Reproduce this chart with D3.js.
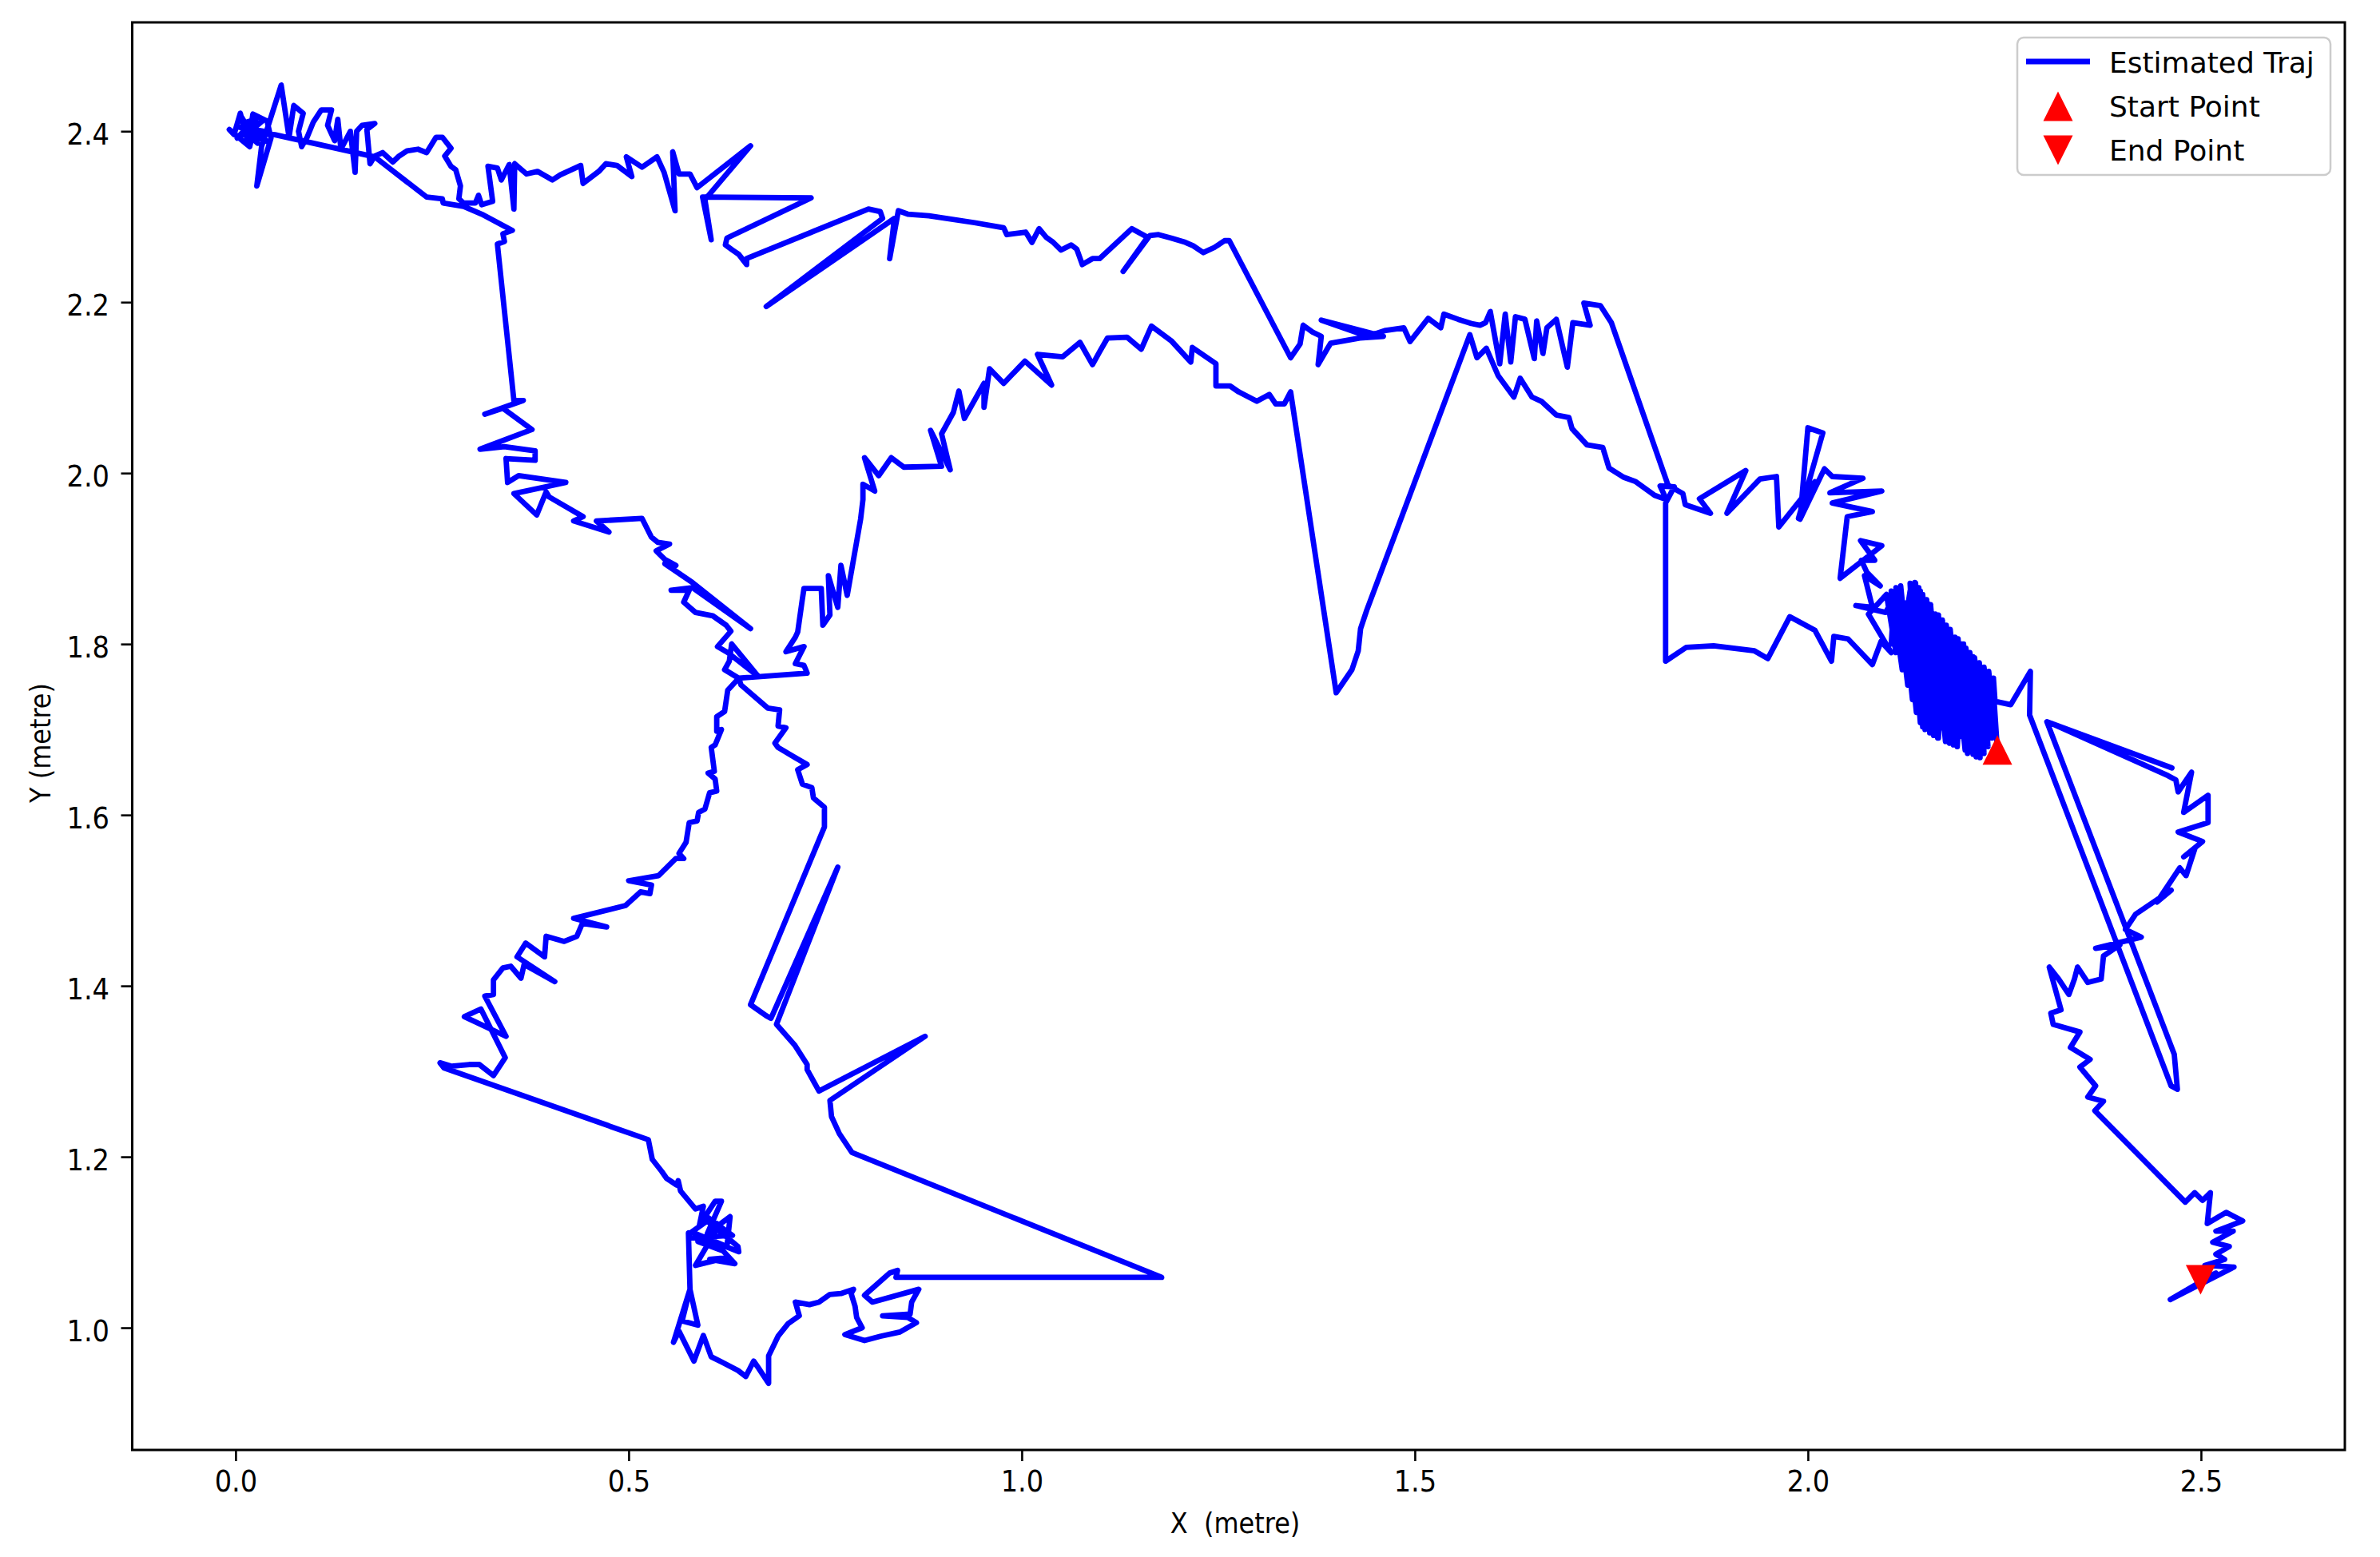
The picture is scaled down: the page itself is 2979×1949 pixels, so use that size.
<!DOCTYPE html>
<html><head><meta charset="utf-8">
<script src="https://cdn.jsdelivr.net/npm/d3@7"></script>
<style>html,body{margin:0;padding:0;background:#fff;} svg{display:block;}</style>
</head><body>
<svg id="chart" width="2979" height="1949"></svg>
<script>
// ---- data (metres) ----
const xLimits = [-0.1315, 2.683];
const yLimits = [0.857, 2.5274];
const xTicks = [0.0, 0.5, 1.0, 1.5, 2.0, 2.5];
const yTicks = [1.0, 1.2, 1.4, 1.6, 1.8, 2.0, 2.2, 2.4];
const legendLabels = ["Estimated Traj", "Start Point", "End Point"];

const startPoint = [2.241, 1.676];
const endPoint = [2.4995, 1.056];

const startCluster = [[2.236,1.745],[2.226,1.683],[2.224,1.770],[2.214,1.668],[2.210,1.785],[2.203,1.672],[2.198,1.800],[2.190,1.680],[2.187,1.808],[2.178,1.686],[2.174,1.822],[2.166,1.690],[2.162,1.835],[2.155,1.696],[2.152,1.848],[2.146,1.703],[2.143,1.862],[2.135,1.735],[2.137,1.871],[2.126,1.760],[2.130,1.862],[2.118,1.790],[2.115,1.852],[2.106,1.800],[2.110,1.856],[2.099,1.837],[2.061,1.845],[2.082,1.843],[2.072,1.880],[2.092,1.868],[2.075,1.884],[2.068,1.898],[2.085,1.898],[2.067,1.921],[2.094,1.915],[2.041,1.877],[2.050,1.949],[2.082,1.955],[2.031,1.965],[2.094,1.979],[2.028,1.977],[2.070,1.994],[2.031,1.996],[2.021,2.005],[1.990,1.946],[2.000,2.053],[2.019,2.047],[1.988,1.947],[2.009,1.990],[1.963,1.937],[1.960,1.996],[1.939,1.993],[1.897,1.953],[1.921,2.003],[1.862,1.970],[1.876,1.953],[1.844,1.963],[1.841,1.976],[1.822,1.986]];

const upperEast = [[1.750,2.176],[1.736,2.196],[1.715,2.199],[1.723,2.173],[1.701,2.176],[1.694,2.124],[1.680,2.180],[1.668,2.170],[1.663,2.140],[1.655,2.178],[1.652,2.134],[1.640,2.180],[1.628,2.183],[1.622,2.130],[1.615,2.186],[1.608,2.128],[1.596,2.189],[1.590,2.176],[1.583,2.173],[1.572,2.175],[1.555,2.180],[1.537,2.186],[1.533,2.170],[1.517,2.181],[1.505,2.167],[1.494,2.154],[1.486,2.170],[1.463,2.167],[1.440,2.160],[1.381,2.179],[1.460,2.160],[1.430,2.158],[1.393,2.152],[1.389,2.146],[1.377,2.127],[1.381,2.160],[1.370,2.165],[1.358,2.173],[1.354,2.151],[1.342,2.135],[1.264,2.272]];

const upperMid = [[1.258,2.272],[1.245,2.264],[1.231,2.258],[1.218,2.266],[1.208,2.270],[1.190,2.275],[1.174,2.279],[1.163,2.278],[1.129,2.236],[1.160,2.276],[1.140,2.286],[1.099,2.251],[1.090,2.251],[1.077,2.244],[1.070,2.262],[1.063,2.267],[1.050,2.261],[1.040,2.270],[1.031,2.276],[1.022,2.286],[1.013,2.270],[1.005,2.282],[0.981,2.279],[0.977,2.287],[0.940,2.293],[0.882,2.301],[0.855,2.303],[0.843,2.307],[0.832,2.251],[0.838,2.298],[0.675,2.195],[0.823,2.298],[0.820,2.306],[0.805,2.309],[0.650,2.251],[0.650,2.244],[0.640,2.256],[0.632,2.261],[0.623,2.267],[0.625,2.275],[0.732,2.322],[0.594,2.323],[0.605,2.273],[0.597,2.320],[0.655,2.383],[0.587,2.334],[0.578,2.350],[0.564,2.350]];

const upperWest = [[0.556,2.376],[0.559,2.307],[0.545,2.352],[0.536,2.370],[0.517,2.358],[0.497,2.370],[0.504,2.347],[0.485,2.360],[0.471,2.362],[0.462,2.353],[0.442,2.339],[0.439,2.360],[0.413,2.349],[0.403,2.343],[0.384,2.353],[0.370,2.350],[0.355,2.362],[0.354,2.309],[0.348,2.361],[0.338,2.343],[0.333,2.357],[0.321,2.359],[0.327,2.318],[0.313,2.314],[0.309,2.325],[0.305,2.316],[0.290,2.316],[0.284,2.321],[0.286,2.336],[0.280,2.355],[0.274,2.359],[0.266,2.371],[0.274,2.380],[0.263,2.393],[0.255,2.393],[0.243,2.375],[0.232,2.379],[0.218,2.377],[0.208,2.371],[0.200,2.364],[0.187,2.375],[0.177,2.371],[0.171,2.362],[0.167,2.402],[0.177,2.409],[0.161,2.407],[0.154,2.400],[0.152,2.352],[0.146,2.400],[0.134,2.379],[0.130,2.414],[0.126,2.389],[0.117,2.407],[0.122,2.425],[0.109,2.425],[0.099,2.411],[0.091,2.393],[0.084,2.382],[0.080,2.400],[0.086,2.421],[0.074,2.430],[0.068,2.393],[0.058,2.454],[0.033,2.382],[0.027,2.336],[0.045,2.392],[0.040,2.412],[0.022,2.420],[0.016,2.386],[0.006,2.421],[-0.002,2.396],[-0.008,2.402],[0.010,2.388],[0.018,2.382],[0.026,2.414],[0.012,2.410],[0.030,2.398],[0.004,2.405],[0.036,2.400],[0.020,2.392],[0.008,2.416],[0.028,2.386],[0.014,2.398],[0.034,2.412],[0.024,2.404],[0.002,2.392],[0.018,2.408],[0.040,2.388],[0.010,2.400],[0.050,2.396],[0.177,2.370],[0.243,2.323],[0.263,2.321],[0.264,2.316],[0.290,2.312],[0.313,2.303],[0.352,2.284],[0.340,2.280],[0.342,2.271],[0.333,2.268]];

const leftDescent = [[0.354,2.085],[0.366,2.085],[0.317,2.069],[0.340,2.076],[0.377,2.051],[0.311,2.028],[0.342,2.031],[0.381,2.026],[0.381,2.015],[0.344,2.017],[0.346,1.989],[0.360,1.997],[0.420,1.989],[0.354,1.976],[0.383,1.951],[0.395,1.978],[0.399,1.972],[0.442,1.949],[0.430,1.944],[0.475,1.931],[0.459,1.944],[0.517,1.947],[0.529,1.925],[0.537,1.919],[0.552,1.917],[0.535,1.909],[0.546,1.899],[0.560,1.892],[0.546,1.894],[0.581,1.872],[0.655,1.818],[0.581,1.866],[0.554,1.863],[0.577,1.863],[0.570,1.849],[0.585,1.837],[0.607,1.833],[0.624,1.822],[0.630,1.815],[0.613,1.797],[0.626,1.790],[0.665,1.762],[0.631,1.800],[0.628,1.780],[0.622,1.770],[0.640,1.760]];

const lowerLeft = [[0.626,1.746],[0.622,1.721],[0.612,1.715],[0.612,1.698],[0.618,1.700],[0.610,1.682],[0.605,1.679],[0.609,1.651],[0.601,1.649],[0.610,1.642],[0.612,1.628],[0.603,1.626],[0.597,1.607],[0.589,1.603],[0.587,1.593],[0.577,1.591],[0.573,1.568],[0.564,1.555],[0.570,1.549],[0.560,1.549],[0.538,1.529],[0.500,1.523],[0.529,1.518],[0.527,1.508],[0.515,1.510],[0.496,1.494],[0.430,1.479],[0.472,1.469],[0.441,1.473],[0.434,1.458],[0.418,1.452],[0.395,1.458],[0.393,1.434],[0.369,1.450],[0.358,1.434],[0.406,1.405],[0.367,1.425],[0.363,1.409],[0.350,1.423],[0.340,1.421],[0.328,1.407],[0.328,1.390],[0.317,1.388],[0.344,1.341],[0.291,1.364],[0.312,1.373],[0.343,1.316],[0.328,1.295],[0.310,1.308],[0.297,1.308],[0.275,1.306],[0.260,1.310],[0.265,1.304]];

const bottomLoop = [[0.525,1.220],[0.530,1.197],[0.542,1.183],[0.548,1.175],[0.561,1.167],[0.563,1.172],[0.566,1.160],[0.585,1.139],[0.595,1.142],[0.590,1.120],[0.610,1.148],[0.618,1.148],[0.600,1.110],[0.629,1.130],[0.625,1.095],[0.580,1.112],[0.600,1.125],[0.639,1.095],[0.640,1.089],[0.610,1.100],[0.588,1.101],[0.620,1.090],[0.635,1.075],[0.603,1.080],[0.625,1.082],[0.585,1.073],[0.615,1.120],[0.596,1.132],[0.632,1.108],[0.578,1.105],[0.576,1.111],[0.578,1.045],[0.568,1.008],[0.588,1.003],[0.578,1.045],[0.557,0.983],[0.564,0.996],[0.583,0.961],[0.595,0.991],[0.605,0.966],[0.618,0.960],[0.639,0.950],[0.649,0.943],[0.659,0.961],[0.665,0.953],[0.678,0.935],[0.678,0.967],[0.690,0.990],[0.703,1.005],[0.717,1.014],[0.712,1.030],[0.730,1.027],[0.742,1.030],[0.756,1.039],[0.770,1.040],[0.786,1.045],[0.783,1.040],[0.788,1.025],[0.790,1.012],[0.797,1.000],[0.775,0.992],[0.800,0.985],[0.820,0.990],[0.845,0.995],[0.866,1.006],[0.855,1.012],[0.823,1.014],[0.858,1.016],[0.860,1.030],[0.869,1.045],[0.810,1.030],[0.800,1.038],[0.832,1.064],[0.842,1.067],[0.840,1.059],[1.178,1.059]];

const returnLeg = [[0.784,1.205],[0.768,1.227],[0.758,1.247],[0.756,1.266],[0.877,1.341],[0.742,1.277],[0.727,1.302],[0.727,1.308],[0.711,1.331],[0.688,1.355],[0.766,1.539],[0.681,1.362],[0.675,1.365],[0.655,1.378],[0.749,1.586],[0.749,1.609],[0.735,1.620],[0.733,1.632],[0.721,1.636],[0.715,1.653],[0.727,1.659],[0.712,1.667],[0.690,1.679],[0.686,1.684],[0.700,1.702],[0.690,1.704],[0.692,1.723],[0.677,1.725],[0.643,1.752],[0.640,1.760]];

const lowerArc = [[0.727,1.766],[0.723,1.775],[0.712,1.777],[0.723,1.797],[0.700,1.791],[0.712,1.808],[0.715,1.814],[0.721,1.853],[0.723,1.865],[0.745,1.865],[0.747,1.822],[0.756,1.834],[0.754,1.880],[0.766,1.843],[0.770,1.892],[0.778,1.857],[0.795,1.946],[0.798,1.969],[0.798,1.987],[0.813,1.979],[0.800,2.018],[0.818,1.997],[0.834,2.018],[0.850,2.007],[0.898,2.008],[0.884,2.050],[0.909,2.004],[0.898,2.046],[0.913,2.071],[0.920,2.096],[0.927,2.064],[0.952,2.105],[0.952,2.077],[0.959,2.122],[0.977,2.105],[1.004,2.131],[1.038,2.103],[1.020,2.139],[1.052,2.136],[1.074,2.153],[1.090,2.127],[1.099,2.142],[1.109,2.158],[1.134,2.159],[1.152,2.145],[1.165,2.172],[1.190,2.155],[1.215,2.130],[1.217,2.147],[1.247,2.128],[1.247,2.102],[1.265,2.102],[1.276,2.095],[1.299,2.084],[1.315,2.092],[1.323,2.081],[1.334,2.081],[1.342,2.095],[1.400,1.743],[1.420,1.770],[1.428,1.792],[1.431,1.818],[1.439,1.840],[1.570,2.162]];

const lowerRight = [[1.579,2.135],[1.591,2.146],[1.606,2.114],[1.626,2.089],[1.634,2.111],[1.649,2.089],[1.661,2.084],[1.680,2.068],[1.696,2.065],[1.700,2.052],[1.719,2.033],[1.739,2.030],[1.747,2.006],[1.766,1.995],[1.781,1.990],[1.805,1.974],[1.820,1.969],[1.812,1.985],[1.830,1.984],[1.819,1.965],[1.819,1.780]];

const bottomPath = [[1.845,1.796],[1.880,1.798],[1.932,1.792],[1.949,1.783],[1.977,1.832],[2.009,1.816],[2.030,1.780],[2.033,1.809],[2.051,1.806],[2.082,1.776],[2.093,1.803],[2.106,1.790]];

const clusterReturn = [[2.077,1.835],[2.100,1.858],[2.112,1.790],[2.106,1.862],[2.120,1.770],[2.112,1.866],[2.127,1.752],[2.118,1.868],[2.133,1.735],[2.124,1.848],[2.138,1.720],[2.130,1.871],[2.143,1.708],[2.136,1.872],[2.149,1.700],[2.141,1.866],[2.155,1.710],[2.146,1.858],[2.160,1.693],[2.151,1.852],[2.165,1.690],[2.156,1.846],[2.170,1.702],[2.161,1.826],[2.175,1.686],[2.166,1.834],[2.180,1.684],[2.171,1.828],[2.185,1.682],[2.176,1.822],[2.190,1.680],[2.181,1.817],[2.195,1.692],[2.186,1.800],[2.200,1.676],[2.191,1.806],[2.205,1.674],[2.196,1.800],[2.210,1.671],[2.201,1.795],[2.215,1.680],[2.206,1.790],[2.219,1.667],[2.212,1.784],[2.224,1.672],[2.218,1.778],[2.229,1.680],[2.224,1.773],[2.234,1.690],[2.230,1.768],[2.238,1.700],[2.236,1.760],[2.238,1.733],[2.258,1.729],[2.283,1.768],[2.282,1.717]];

const exitToEnd = [[2.462,1.283],[2.470,1.279],[2.466,1.320],[2.304,1.709],[2.463,1.655],[2.310,1.707],[2.458,1.646],[2.468,1.641],[2.471,1.627],[2.488,1.650],[2.478,1.603],[2.509,1.623],[2.509,1.591],[2.471,1.580],[2.502,1.569],[2.478,1.551],[2.492,1.560],[2.481,1.529],[2.473,1.538],[2.444,1.498],[2.462,1.512],[2.417,1.484],[2.404,1.466],[2.424,1.457],[2.366,1.444],[2.397,1.448],[2.376,1.435],[2.373,1.408],[2.356,1.404],[2.343,1.422],[2.339,1.408],[2.332,1.390],[2.319,1.408],[2.307,1.422],[2.322,1.372],[2.309,1.368],[2.312,1.355],[2.346,1.346],[2.334,1.328],[2.359,1.314],[2.346,1.305],[2.366,1.283],[2.356,1.270],[2.376,1.265],[2.365,1.254],[2.480,1.147],[2.492,1.158],[2.502,1.149],[2.512,1.158],[2.508,1.122],[2.532,1.135],[2.553,1.125],[2.519,1.113],[2.541,1.113],[2.515,1.100],[2.536,1.095],[2.519,1.086],[2.530,1.080],[2.505,1.073],[2.542,1.071],[2.461,1.033],[2.519,1.064]];

const trajectory = [startPoint, ...startCluster, ...upperEast, ...upperMid, ...upperWest,
  ...leftDescent, ...lowerLeft, ...bottomLoop, ...returnLeg, ...lowerArc, ...lowerRight,
  ...bottomPath, ...clusterReturn, ...exitToEnd, endPoint];

// ---- layout ----
const svg = d3.select("#chart");
const plot = {left: 165.5, right: 2935, top: 28, bottom: 1815};
const x = d3.scaleLinear().domain(xLimits).range([plot.left, plot.right]);
const y = d3.scaleLinear().domain(yLimits).range([plot.bottom, plot.top]);

svg.append("rect").attr("width", 2979).attr("height", 1949).attr("fill", "#fff");

svg.append("defs").append("clipPath").attr("id", "clip")
  .append("rect").attr("x", plot.left).attr("y", plot.top)
  .attr("width", plot.right - plot.left).attr("height", plot.bottom - plot.top);

const lineGen = d3.line().x(d => x(d[0])).y(d => y(d[1]));
const g = svg.append("g").attr("clip-path", "url(#clip)");
g.append("path").datum(trajectory)
  .attr("d", lineGen)
  .attr("fill", "none").attr("stroke", "#0000ff")
  .attr("stroke-width", 6.8).attr("stroke-linejoin", "round").attr("stroke-linecap", "butt");

const triUp = "M0,-18.5L18.5,18.5L-18.5,18.5Z";
const triDown = "M0,18.5L18.5,-18.5L-18.5,-18.5Z";
g.append("path").attr("d", triUp).attr("fill", "#ff0000")
  .attr("transform", `translate(${x(startPoint[0])},${y(startPoint[1])})`);
g.append("path").attr("d", triDown).attr("fill", "#ff0000")
  .attr("transform", `translate(${x(endPoint[0])},${y(endPoint[1])})`);

// ---- axes ----
const fmt = d3.format(".1f");
const xAxisG = svg.append("g").attr("transform", `translate(0,${plot.bottom})`)
  .call(d3.axisBottom(x).tickValues(xTicks).tickFormat(fmt).tickSize(14));
xAxisG.select(".domain").remove();
xAxisG.selectAll(".tick line").attr("stroke", "#000").attr("stroke-width", 2.6);
xAxisG.selectAll(".tick text")
  .attr("y", 52).attr("dy", null)
  .attr("font-family", "DejaVu Sans").attr("font-size", 37).attr("fill", "#000")
  .attr("transform", "scale(0.91,1)");

const yAxisG = svg.append("g").attr("transform", `translate(${plot.left},0)`)
  .call(d3.axisLeft(y).tickValues(yTicks).tickFormat(fmt).tickSize(14));
yAxisG.select(".domain").remove();
yAxisG.selectAll(".tick line").attr("stroke", "#000").attr("stroke-width", 2.6);
yAxisG.selectAll(".tick text")
  .attr("x", -28.5 / 0.91).attr("y", 16).attr("dy", null)
  .attr("font-family", "DejaVu Sans").attr("font-size", 37).attr("fill", "#000")
  .attr("transform", "scale(0.91,1)");

svg.append("rect").attr("x", plot.left).attr("y", plot.top)
  .attr("width", plot.right - plot.left).attr("height", plot.bottom - plot.top)
  .attr("fill", "none").attr("stroke", "#000").attr("stroke-width", 3);

svg.append("text").attr("transform", "translate(1546,1919) scale(0.9,1)")
  .attr("text-anchor", "middle").attr("font-family", "DejaVu Sans").attr("font-size", 35.5)
  .style("white-space", "pre").attr("fill", "#000").text("X  (metre)");
svg.append("text").attr("transform", "translate(63,930) rotate(-90) scale(0.9,1)")
  .attr("text-anchor", "middle").attr("font-family", "DejaVu Sans").attr("font-size", 35.5)
  .attr("fill", "#000").text("Y (metre)");

// ---- legend ----
const lg = svg.append("g");
lg.append("rect").attr("x", 2525).attr("y", 47).attr("width", 392).attr("height", 172)
  .attr("rx", 8).attr("fill", "#fff").attr("fill-opacity", 0.8)
  .attr("stroke", "#cccccc").attr("stroke-width", 2.5);
lg.append("line").attr("x1", 2536).attr("x2", 2616).attr("y1", 77).attr("y2", 77)
  .attr("stroke", "#0000ff").attr("stroke-width", 6.8);
lg.append("path").attr("d", triUp).attr("fill", "#ff0000").attr("transform", "translate(2576,133)");
lg.append("path").attr("d", triDown).attr("fill", "#ff0000").attr("transform", "translate(2576,188)");
lg.selectAll("text.lbl").data(legendLabels).enter().append("text").attr("class", "lbl")
  .attr("x", 2640).attr("y", (d, i) => 91 + i * 55)
  .attr("font-family", "DejaVu Sans").attr("font-size", 36).attr("fill", "#000")
  .text(d => d);
</script>
</body></html>
